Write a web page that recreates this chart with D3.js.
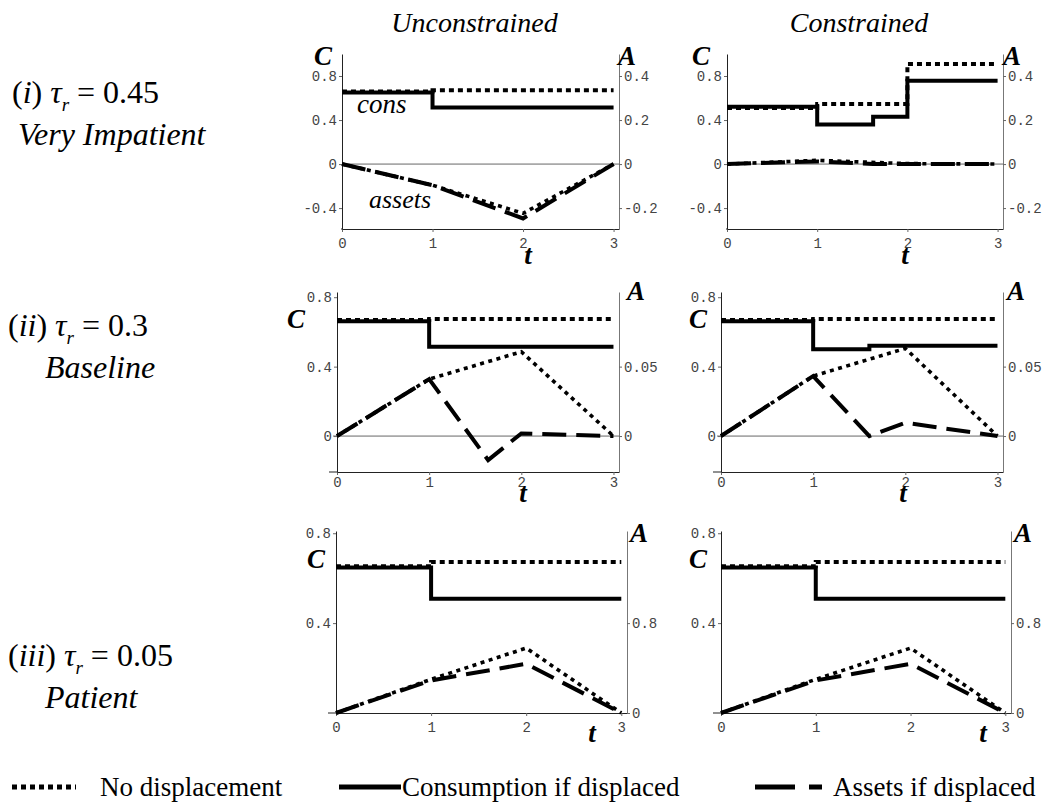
<!DOCTYPE html>
<html>
<head>
<meta charset="utf-8">
<script src="https://cdn.jsdelivr.net/npm/d3@7"></script>
<style>
  body { margin: 0; background: #fff; }
  svg { display: block; }
  .serif { font-family: "Liberation Serif", "Times New Roman", "DejaVu Serif", serif; }
  .mono { font-family: "Liberation Mono", "Courier New", "DejaVu Sans Mono", monospace; }
</style>
</head>
<body>
<div id="chart"></div>
<script>
// Datos: titulos, etiquetas y ticks
const colTitles = ["Unconstrained", "Constrained"]
const rowRoman = ["i", "ii", "iii"]
const rowTau = ["0.45", "0.3", "0.05"]
const rowName = ["Very Impatient", "Baseline", "Patient"]
const tTicks = [0, 1, 2, 3]
const cTicks = [[-0.4, 0, 0.4, 0.8], [0, 0.4, 0.8], [0.4, 0.8]]
const aTicks = [[-0.2, 0, 0.2, 0.4], [0, 0.05], [0, 0.8]]
const cDomains = [[-0.59, 1.0], [-0.207, 0.83], [0, 0.81]]
const aDomains = [[-0.295, 0.5], [-0.0259, 0.10375], [0, 1.62]]
const legendLabels = ["No displacement", "Consumption if displaced", "Assets if displaced"]

// Series [t, valor]  (cons -> eje C, assets -> eje A)
// (i) tau_r = 0.45
const consBase_i_u = [[0, 0.66], [1, 0.67], [3, 0.67]]
const consDisp_i_u = [[0, 0.65], [1, 0.515], [3, 0.515]]
const assetBase_i_u = [[0, 0], [1, -0.096], [2, -0.224], [3, 0]]
const assetDisp_i_u = [[0, 0], [1, -0.096], [2, -0.247], [3, 0]]
const consBase_i_c = [[0, 0.51], [1, 0.545], [2, 0.91], [3, 0.91]]
const consDisp_i_c = [[0, 0.52], [1, 0.36], [1.62, 0.43], [2, 0.757], [3, 0.757]]
const assetBase_i_c = [[0, 0], [1, 0.017], [2, 0.002], [3, 0]]
const assetDisp_i_c = [[0, 0], [1, 0.012], [1.62, 0], [2, 0], [3, 0]]
// (ii) tau_r = 0.3
const consBase_ii_u = [[0, 0.668], [1, 0.675], [3, 0.675]]
const consDisp_ii_u = [[0, 0.662], [1, 0.514], [3, 0.514]]
const assetBase_ii_u = [[0, 0], [1, 0.041], [2, 0.0607], [3, 0]]
const assetDisp_ii_u = [[0, 0], [1, 0.041], [1.64, -0.0173], [2, 0.0019], [3, 0]]
const consBase_ii_c = [[0, 0.668], [1, 0.675], [3, 0.675]]
const consDisp_ii_c = [[0, 0.662], [1, 0.50], [1.61, 0.52], [3, 0.52]]
const assetBase_ii_c = [[0, 0], [1, 0.0432], [2, 0.0631], [3, 0]]
const assetDisp_ii_c = [[0, 0], [1, 0.0432], [1.61, 0], [2, 0.0096], [3, 0]]
// (iii) tau_r = 0.05
const consBase_iii_u = [[0, 0.653], [1, 0.672], [3, 0.672]]
const consDisp_iii_u = [[0, 0.648], [1, 0.508], [3, 0.508]]
const assetBase_iii_u = [[0, 0], [1, 0.30], [2, 0.578], [3, 0]]
const assetDisp_iii_u = [[0, 0], [1, 0.29], [2, 0.438], [3, 0]]
const consBase_iii_c = [[0, 0.653], [1, 0.672], [3, 0.672]]
const consDisp_iii_c = [[0, 0.648], [1, 0.508], [3, 0.508]]
const assetBase_iii_c = [[0, 0], [1, 0.30], [2, 0.578], [3, 0]]
const assetDisp_iii_c = [[0, 0], [1, 0.29], [2, 0.438], [3, 0]]

const series = [
    [{cb: consBase_i_u, cd: consDisp_i_u, ab: assetBase_i_u, ad: assetDisp_i_u},
     {cb: consBase_i_c, cd: consDisp_i_c, ab: assetBase_i_c, ad: assetDisp_i_c}],
    [{cb: consBase_ii_u, cd: consDisp_ii_u, ab: assetBase_ii_u, ad: assetDisp_ii_u},
     {cb: consBase_ii_c, cd: consDisp_ii_c, ab: assetBase_ii_c, ad: assetDisp_ii_c}],
    [{cb: consBase_iii_u, cd: consDisp_iii_u, ab: assetBase_iii_u, ad: assetDisp_iii_u},
     {cb: consBase_iii_c, cd: consDisp_iii_c, ab: assetBase_iii_c, ad: assetDisp_iii_c}]
]

// Layout
const width = 1060
const height = 812
const rowBox = [
    {top: 54, bottom: 229, cBase: 65, aBase: 65, tBase: 264, pad: 6, ext: 1, labelY: 103},
    {top: 292, bottom: 472, cBase: 328, aBase: 300, tBase: 502, pad: 2, ext: 8, labelY: 336},
    {top: 531, bottom: 713, cBase: 568, aBase: 542, tBase: 742, pad: 6, ext: 8, labelY: 666}
]
const colBox = [[[342, 619], [727, 1003]], [[337, 619], [721, 1003]], [[336, 627], [721, 1011]]]
const cLabelEnd = [[332, 710], [305, 707], [325, 707]]
const aLabelStart = [[618, 1003], [627, 1007], [630, 1014]]
const tLabelX = [[528, 905], [523, 903], [592, 983]]
const rowLabelX = [[12, 18], [8, 45], [8, 45]]

const svg = d3.select("#chart").append("svg").attr("width", width).attr("height", height)
svg.append("rect").attr("width", width).attr("height", height).attr("fill", "#fff")

const fmt = d => d === 0 ? "0" : String(d)

function styleAxis(g, domainColor) {
    g.attr("font-family", null).attr("font-size", null)
    g.selectAll(".tick text").attr("class", "mono").style("font-size", "14px").attr("fill", "#444")
    g.select(".domain").attr("stroke", domainColor).attr("stroke-width", 1)
    g.selectAll(".tick line").attr("stroke", "#666")
}

// titulos de columnas
colTitles.forEach((t, c) => {
    const [x0, x1] = colBox[0][c]
    svg.append("text").attr("class", "serif").attr("x", (x0 + x1) / 2 - 6).attr("y", 32)
        .attr("text-anchor", "middle").style("font-style", "italic").style("font-size", "28px").text(t)
})

// etiquetas de filas
rowRoman.forEach((rn, r) => {
    const rb = rowBox[r]
    const t = svg.append("text").attr("class", "serif").attr("x", rowLabelX[r][0]).attr("y", rb.labelY)
        .style("font-size", "32px")
    t.append("tspan").text("(")
    t.append("tspan").style("font-style", "italic").text(rn)
    t.append("tspan").text(") ")
    t.append("tspan").style("font-style", "italic").text("\u03C4")
    t.append("tspan").style("font-style", "italic").style("font-size", "19px").attr("dy", 8).text("r")
    t.append("tspan").attr("dy", -8).text(" = " + rowTau[r])
    svg.append("text").attr("class", "serif").attr("x", rowLabelX[r][1]).attr("y", rb.labelY + 42)
        .style("font-style", "italic").style("font-size", "32px")
        .text(rowName[r])
})

// paneles
series.forEach((row, r) => {
    const rb = rowBox[r]
    row.forEach((s, c) => {
        const [x0, x1] = colBox[r][c]
        const x = d3.scaleLinear().domain([0, 3.06]).range([x0, x1])
        const yC = d3.scaleLinear().domain(cDomains[r]).range([rb.bottom, rb.top])
        const yA = d3.scaleLinear().domain(aDomains[r]).range([rb.bottom, rb.top])
        const g = svg.append("g").attr("class", "panel")

        if (cDomains[r][0] < 0) {
            g.append("line").attr("x1", x0 - (r === 1 ? 4 : 0)).attr("x2", x1)
                .attr("y1", yC(0)).attr("y2", yC(0))
                .attr("stroke", "#555").attr("stroke-width", 0.9)
        }

        const xg = g.append("g").attr("transform", `translate(0,${rb.bottom})`)
            .call(d3.axisBottom(x).tickValues(tTicks).tickSize(3).tickSizeOuter(0)
                .tickPadding(rb.pad).tickFormat(d3.format("d")))
        styleAxis(xg, "#222")
        g.append("line").attr("x1", x0 - rb.ext).attr("x2", x0)
            .attr("y1", rb.bottom).attr("y2", rb.bottom).attr("stroke", "#222")

        const lg = g.append("g").attr("transform", `translate(${x0},0)`)
            .call(d3.axisLeft(yC).tickValues(cTicks[r]).tickSize(3).tickSizeOuter(0)
                .tickPadding(2).tickFormat(fmt))
        styleAxis(lg, "#222")

        const rg = g.append("g").attr("transform", `translate(${x1},0)`)
            .call(d3.axisRight(yA).tickValues(aTicks[r]).tickSize(3).tickSizeOuter(0)
                .tickPadding(2).tickFormat(fmt))
        styleAxis(rg, "#777")

        const lineC = d3.line().x(d => x(d[0])).y(d => yC(d[1])).curve(d3.curveStepAfter)
        const lineA = d3.line().x(d => x(d[0])).y(d => yA(d[1]))

        g.append("path").attr("d", lineA(s.ad)).attr("fill", "none")
            .attr("stroke", "#000").attr("stroke-width", 4).attr("stroke-dasharray", "24,10")
        g.append("path").attr("d", lineA(s.ab)).attr("fill", "none")
            .attr("stroke", "#000").attr("stroke-width", 3.6).attr("stroke-dasharray", "4,4.5")
        g.append("path").attr("d", lineC(s.cb)).attr("fill", "none")
            .attr("stroke", "#000").attr("stroke-width", 4).attr("stroke-dasharray", "5,4")
        g.append("path").attr("d", lineC(s.cd)).attr("fill", "none")
            .attr("stroke", "#000").attr("stroke-width", 4)

        // etiquetas de ejes
        const lab = (xx, yy, anchor, txt) => g.append("text").attr("class", "serif")
            .attr("x", xx).attr("y", yy).attr("text-anchor", anchor)
            .style("font-weight", "bold").style("font-style", "italic").style("font-size", "27px").text(txt)
        lab(cLabelEnd[r][c], rb.cBase, "end", "C")
        lab(aLabelStart[r][c], rb.aBase, "start", "A")
        lab(tLabelX[r][c], rb.tBase, "middle", "t")

        if (r === 0 && c === 0) {
            g.append("text").attr("class", "serif").attr("x", 357).attr("y", 113)
                .style("font-style", "italic").style("font-size", "27px").text("cons")
            g.append("text").attr("class", "serif").attr("x", 369).attr("y", 208)
                .style("font-style", "italic").style("font-size", "26px").text("assets")
        }
    })
})

// leyenda
const legY = 787
const leg = svg.append("g").attr("id", "legend")
leg.append("line").attr("x1", 12).attr("x2", 76).attr("y1", legY).attr("y2", legY)
    .attr("stroke", "#000").attr("stroke-width", 5).attr("stroke-dasharray", "5,4")
leg.append("line").attr("x1", 339).attr("x2", 401).attr("y1", legY).attr("y2", legY)
    .attr("stroke", "#000").attr("stroke-width", 5)
leg.append("line").attr("x1", 755).attr("x2", 822).attr("y1", legY).attr("y2", legY)
    .attr("stroke", "#000").attr("stroke-width", 5).attr("stroke-dasharray", "40,14")
const legX = [100, 402, 833]
legendLabels.forEach((l, i) => {
    leg.append("text").attr("class", "serif").attr("x", legX[i]).attr("y", legY + 9)
        .style("font-size", "27px").text(l)
})
</script>
</body>
</html>
